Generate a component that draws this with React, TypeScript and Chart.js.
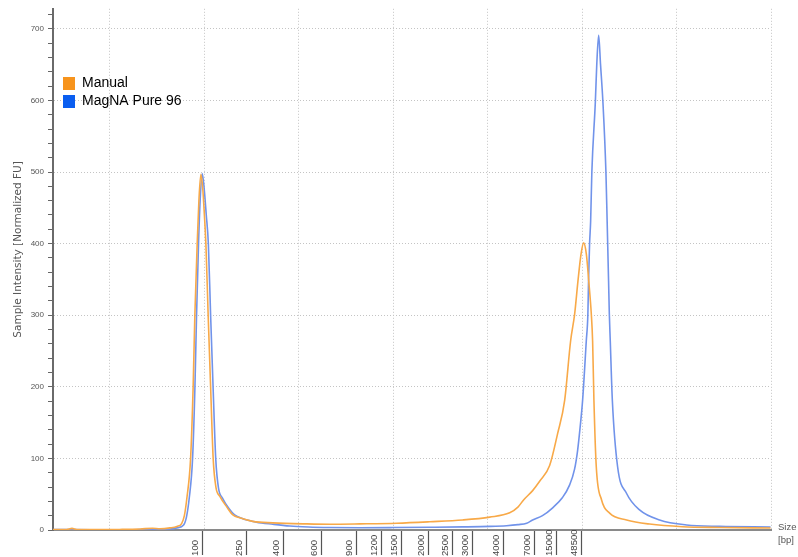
import React, { useEffect, useRef } from 'react';
import { Chart, registerables } from 'chart.js';

Chart.register(...registerables);

// Underlying run-position scale (linear); size ladder ticks are placed on it
const manualPos = [3.97, 5.4, 5.98, 6.5, 9.0, 11.0, 13.2, 14.5, 15.3, 16.35, 17.09, 17.59, 17.88, 18.15, 18.54, 18.81, 18.99, 19.24, 19.42, 19.63, 19.82, 20.0, 20.16, 20.4, 20.66, 20.93, 21.22, 21.64, 22.38, 23.02, 23.76, 25.13, 27.25, 30.85, 33.28, 36.46, 40.37, 43.86, 47.35, 50.21, 52.33, 53.2, 53.8, 54.76, 55.5, 56.56, 57.41, 58.15, 58.78, 59.21, 59.56, 59.88, 60.16, 60.45, 60.7, 60.97, 61.11, 61.25, 61.5, 62.06, 62.91, 64.71, 67.14, 70.63, 74.55, 79.95];
const manualVal = [0.5, 0.8, 2.2, 0.8, 0.5, 0.8, 1.5, 2.5, 1.8, 3, 5, 9, 20, 45, 100, 200, 300, 400, 460, 497, 478, 440, 400, 300, 200, 100, 60, 47, 32, 21, 17, 12, 10, 8.5, 8, 8.5, 9.5, 11.5, 14, 18, 24, 32, 42, 55, 68, 90, 135, 181, 264, 302, 348, 385, 401, 385, 348, 302, 264, 181, 88, 42, 23.5, 14, 8.3, 4.6, 3.5, 2.8];

const magnaPos = [3.97, 6, 10, 14, 16.35, 17.09, 17.8, 18.1, 18.4, 18.75, 19.0, 19.17, 19.38, 19.55, 19.77, 19.97, 20.2, 20.42, 20.66, 20.92, 21.2, 21.5, 21.9, 22.6, 23.2, 24.0, 25.5, 27.25, 29.05, 31.0, 33.28, 36.46, 40.0, 43.86, 47.35, 50.21, 52.0, 53.2, 54.13, 54.76, 55.8, 56.88, 57.9, 58.68, 59.2, 59.52, 59.8, 60.05, 60.44, 60.61, 60.68, 60.79, 60.9, 61.03, 61.4, 61.55, 61.75, 61.95, 62.2, 62.52, 62.65, 62.8, 62.88, 62.98, 63.2, 63.76, 64.71, 66.08, 68.2, 71.06, 74.55, 79.95];
const magnaVal = [0.5, 0.5, 0.3, 0.6, 1.5, 3, 7, 18, 45, 100, 200, 300, 400, 460, 498, 478, 440, 400, 300, 200, 100, 58, 45, 30, 21, 16, 11, 8, 5.5, 4.2, 3.5, 3.2, 3.4, 3.8, 4.3, 5, 6, 7.5, 9.5, 14, 20, 31, 45, 63, 85, 111, 145, 181, 264, 302, 348, 400, 431, 500, 598, 650, 691, 650, 598, 500, 431, 348, 302, 264, 181, 88, 51, 28, 14, 7, 5, 4.2];

const bpTickPos = [19.84, 24.5, 28.41, 32.43, 36.14, 38.78, 40.9, 43.76, 46.3, 48.41, 51.69, 54.97, 57.3, 59.95];
const bpTickLabels = ['100', '250', '400', '600', '900', '1200', '1500', '2000', '2500', '3000', '4000', '7000', '15000', '48500'];

const seriesNames = ['Manual', 'MagNA Pure 96'];
const legendColors = ['#F7941D', '#0A5EF0'];
const lineColors = ['#F8A948', '#7193EA'];

const yTitle = 'Sample Intensity [Normalized FU]';

function toPoints(xs: number[], ys: number[]) {
  return xs.map((x, i) => ({ x, y: ys[i] }));
}

// pad to equal width (2 spaces = 1 digit in Liberation Sans) so rotated labels share their start
function padLabel(s: string) {
  return s + '  '.repeat(5 - s.length);
}

export default function App() {
  const ref = useRef<HTMLCanvasElement>(null);

  useEffect(() => {
    if (!ref.current) return;

    const legendPos = {
      id: 'legendPos',
      beforeDraw(chart: any) {
        const lg = chart.legend;
        if (lg) {
          lg.left = 59;
          lg.top = 72.5;
          lg.right = 300;
          lg.bottom = 140;
          lg.width = 241;
          lg.height = 67.5;
        }
      },
    };

    const sizeLabel = {
      id: 'sizeLabel',
      afterDraw(chart: any) {
        const ctx = chart.ctx;
        ctx.save();
        ctx.font = '9.5px "Liberation Sans"';
        ctx.fillStyle = '#555';
        ctx.textAlign = 'left';
        ctx.textBaseline = 'alphabetic';
        ctx.fillText('Size', 778, 529.5);
        ctx.fillText('[bp]', 778, 543);
        ctx.restore();
      },
    };

    const chart = new Chart(ref.current, {
      type: 'line',
      data: {
        datasets: [
          {
            label: seriesNames[0],
            data: toPoints(manualPos, manualVal),
            borderColor: lineColors[0],
            backgroundColor: legendColors[0],
            borderWidth: 1.6,
            pointRadius: 0,
            cubicInterpolationMode: 'monotone',
            xAxisID: 'x',
            yAxisID: 'y',
          },
          {
            label: seriesNames[1],
            data: toPoints(magnaPos, magnaVal),
            borderColor: lineColors[1],
            backgroundColor: legendColors[1],
            borderWidth: 1.6,
            pointRadius: 0,
            cubicInterpolationMode: 'monotone',
            xAxisID: 'x',
            yAxisID: 'y',
          },
        ],
      },
      options: {
        animation: false,
        responsive: true,
        maintainAspectRatio: false,
        layout: { padding: { left: 0, right: 27, top: 7, bottom: 0 } },
        plugins: {
          tooltip: { enabled: false },
          legend: {
            position: 'chartArea',
            align: 'start',
            labels: {
              boxWidth: 12,
              boxHeight: 13,
              padding: 4,
              color: '#1a1a1a',
              font: { size: 14, family: '"Liberation Sans", Arial, sans-serif' },
              generateLabels: () =>
                seriesNames.map((t, i) => ({
                  text: t,
                  fillStyle: legendColors[i],
                  strokeStyle: legendColors[i],
                  lineWidth: 0,
                  hidden: false,
                  datasetIndex: i,
                })),
            },
          },
        },
        scales: {
          x: {
            type: 'linear',
            position: 'bottom',
            min: 3.97,
            max: 80,
            afterFit: (s: any) => { s.height = 0; },
            ticks: { display: false, stepSize: 10, includeBounds: false },
            grid: { color: '#c4c4c4', lineWidth: 1, drawTicks: false, drawOnChartArea: true },
            border: { display: false, dash: [1, 2] },
          },
          xb: {
            type: 'linear',
            position: 'bottom',
            min: 3.97,
            max: 80,
            afterBuildTicks: (axis: any) => {
              axis.ticks = bpTickPos.map((v) => ({ value: v }));
            },
            afterFit: (s: any) => { s.height = 27; },
            ticks: {
              autoSkip: false,
              minRotation: 90,
              maxRotation: 90,
              padding: -25.5,
              labelOffset: -7.5,
              color: '#444',
              font: { size: 9.5, family: '"Liberation Sans", Arial, sans-serif' },
              callback: (_v: any, i: number) => padLabel(bpTickLabels[i]),
            },
            grid: { drawOnChartArea: false, drawTicks: true, tickLength: 25, tickColor: '#555', tickWidth: 1.2 },
            border: { display: true, color: '#8a8a8a', width: 2 },
          },
          y: {
            type: 'linear',
            position: 'left',
            min: 0,
            max: 728,
            afterFit: (s: any) => { s.width = 53; },
            ticks: {
              stepSize: 20,
              autoSkip: false,
              includeBounds: false,
              padding: 4,
              color: '#555',
              font: { size: 8, family: '"Liberation Sans", Arial, sans-serif' },
              callback: (v: any) => (Number(v) % 100 === 0 ? String(v) : ''),
            },
            grid: {
              color: (c: any) => (c.tick && c.tick.value % 100 === 0 && c.tick.value > 0 ? '#c4c4c4' : 'rgba(0,0,0,0)'),
              tickColor: '#666',
              tickLength: 5,
              tickWidth: 1,
              drawTicks: true,
            },
            border: { display: true, color: '#6a6a6a', width: 2, dash: [1, 2] },
            title: {
              display: true,
              text: '            ' + yTitle,
              color: '#555',
              font: { size: 10.5, family: '"DejaVu Sans", sans-serif' },
              padding: { top: 11.5, bottom: 0 },
            },
          },
        },
      } as any,
      plugins: [legendPos, sizeLabel],
    });

    return () => chart.destroy();
  }, []);

  return (
    <div style={{ position: 'fixed', left: 0, top: 0, width: 798, height: 557, background: '#fff' }}>
      <canvas ref={ref} />
    </div>
  );
}
